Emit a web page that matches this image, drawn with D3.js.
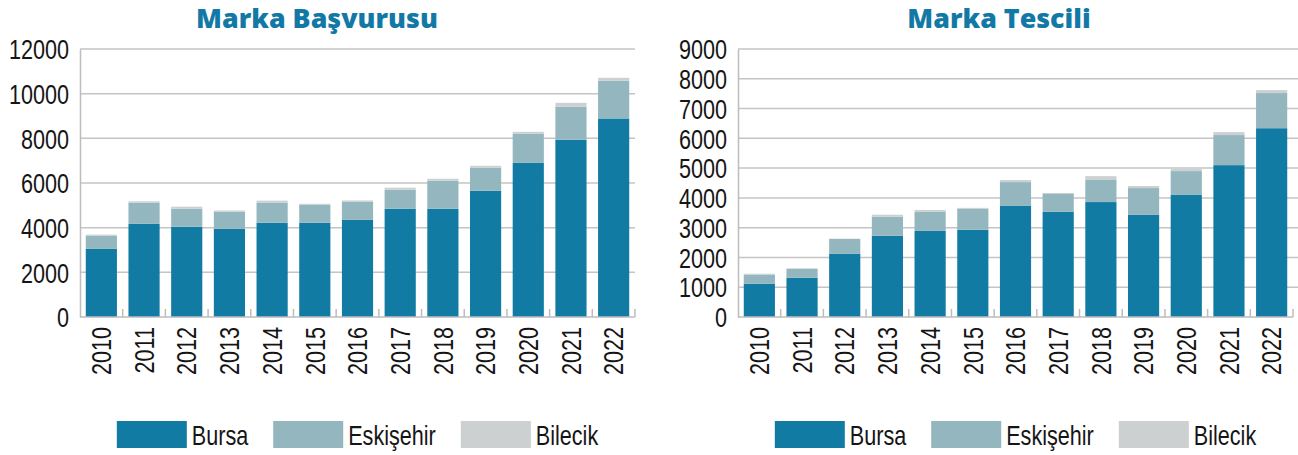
<!DOCTYPE html>
<html><head><meta charset="utf-8">
<script src="https://cdn.jsdelivr.net/npm/d3@7"></script>
<style>
html,body{margin:0;padding:0;background:#fff;}
svg{display:block;}
</style></head>
<body>
<svg id="chart" width="1298" height="455"></svg>
<script>
const years = ["2010","2011","2012","2013","2014","2015","2016","2017","2018","2019","2020","2021","2022"];
const seriesNames = ["Bursa","Eskişehir","Bilecik"];
const seriesColors = ["#127ba3","#93b6bf","#cdd0d0"];

const basvuruBursa     = [3050,4180,4040,3950,4220,4220,4350,4850,4850,5650,6900,7940,8890];
const basvuruEskisehir = [590,940,810,760,900,800,820,850,1250,1030,1300,1470,1690];
const basvuruBilecik   = [50,60,90,60,90,50,50,90,90,90,90,180,130];
const basvuruTicks     = [0,2000,4000,6000,8000,10000,12000];

const tescilBursa      = [1120,1320,2120,2730,2890,2930,3730,3530,3860,3430,4100,5100,6340];
const tescilEskisehir  = [300,300,500,640,640,700,800,600,740,900,800,1010,1180];
const tescilBilecik    = [35,15,10,65,65,35,70,35,130,70,80,100,100];
const tescilTicks      = [0,1000,2000,3000,4000,5000,6000,7000,8000,9000];

const titles = ["Marka Başvurusu","Marka Tescili"];

const svg = d3.select("#chart");
const FONT = '"Liberation Sans",Arial,sans-serif';
const FS = 27, SX = 0.8;

function drawPanel(cfg){
  const g = svg.append("g");
  const rows = years.map((y,i)=>({year:y, Bursa:cfg.s[0][i], "Eskişehir":cfg.s[1][i], Bilecik:cfg.s[2][i]}));
  const stacked = d3.stack().keys(seriesNames)(rows);
  const x = d3.scaleBand().domain(years).range([cfg.left, cfg.right]).paddingInner(0.27).paddingOuter(0.135);
  const y = d3.scaleLinear().domain([0, d3.max(cfg.ticks)]).range([cfg.bottom, cfg.top]);

  // gridlines
  g.append("g").selectAll("line").data(cfg.ticks.filter(t=>t>0)).join("line")
    .attr("x1", cfg.left).attr("x2", cfg.gridRight)
    .attr("y1", d=>y(d)).attr("y2", d=>y(d))
    .attr("stroke","#c4c4c4").attr("stroke-width",1.5);

  // y axis
  const yAxis = d3.axisLeft(y).tickValues(cfg.ticks).tickSize(0).tickPadding(0).tickFormat(d3.format("d"));
  const ya = g.append("g").attr("transform",`translate(${cfg.left},0)`).call(yAxis);
  ya.select(".domain").attr("stroke","#bdbdbd").attr("stroke-width",1.5);
  ya.selectAll("text").attr("x",0).attr("transform",`translate(-11,0) scale(${SX},1)`)
    .attr("font-family",FONT).attr("font-size",FS).attr("fill","#151515").attr("dy","0.36em");

  // bars
  g.append("g").selectAll("g").data(stacked).join("g")
    .attr("fill",(d,i)=>seriesColors[i])
    .selectAll("rect").data(d=>d).join("rect")
    .attr("x", d=>x(d.data.year))
    .attr("width", x.bandwidth())
    .attr("y", d=>y(d[1]))
    .attr("height", d=>y(d[0])-y(d[1]));

  // x axis baseline with category boundary ticks
  const step = x.step();
  const bounds = d3.range(years.length+1).map(i=>cfg.left + i*step);
  const xa = g.append("g");
  xa.append("line").attr("x1",cfg.left).attr("x2",cfg.right).attr("y1",cfg.bottom).attr("y2",cfg.bottom)
    .attr("stroke","#bdbdbd").attr("stroke-width",1.5);
  xa.selectAll("line.tk").data(bounds.slice(1)).join("line").attr("class","tk")
    .attr("x1",d=>d).attr("x2",d=>d).attr("y1",cfg.bottom).attr("y2",cfg.bottom-8)
    .attr("stroke","#bdbdbd").attr("stroke-width",1.5);
  xa.selectAll("text").data(years).join("text")
    .attr("transform",d=>`translate(${x(d)+x.bandwidth()/2},${cfg.bottom+10}) rotate(-90) scale(${SX},1)`)
    .attr("text-anchor","end").attr("dy","0.36em")
    .attr("font-family",FONT).attr("font-size",FS).attr("fill","#151515")
    .text(d=>d);

  // title
  g.append("text").attr("x",cfg.titleX).attr("y",28).attr("text-anchor","middle")
    .attr("font-family",'"Open Sans",sans-serif').attr("font-weight",800).attr("font-size",26.8)
    .attr("fill","#1279a6").text(cfg.title);

  // legend
  const lg = g.append("g");
  const items = lg.selectAll("g").data(seriesNames).join("g");
  items.append("rect").attr("width",70).attr("height",27).attr("y",421).attr("fill",(d,i)=>seriesColors[i]);
  items.append("text").attr("transform",`translate(75,445) scale(${SX},1)`)
    .attr("font-family",FONT).attr("font-size",FS).attr("fill","#151515").text(d=>d);
  let pos = 0; const offs = [];
  const GAP = 25;
  items.each(function(d){ const w = 75 + SX*d3.select(this).select("text").node().getComputedTextLength(); offs.push(pos); pos += w + GAP; });
  const total = pos - GAP;
  const start = (cfg.left + cfg.right)/2 - total/2;
  items.attr("transform",(d,i)=>`translate(${start+offs[i]},0)`);
}

drawPanel({title:titles[0], s:[basvuruBursa,basvuruEskisehir,basvuruBilecik], ticks:basvuruTicks,
  left:80, right:635, gridRight:635, top:49, bottom:317, titleX:317});
drawPanel({title:titles[1], s:[tescilBursa,tescilEskisehir,tescilBilecik], ticks:tescilTicks,
  left:738, right:1293, gridRight:1298, top:49, bottom:317, titleX:999});
</script>
</body></html>
